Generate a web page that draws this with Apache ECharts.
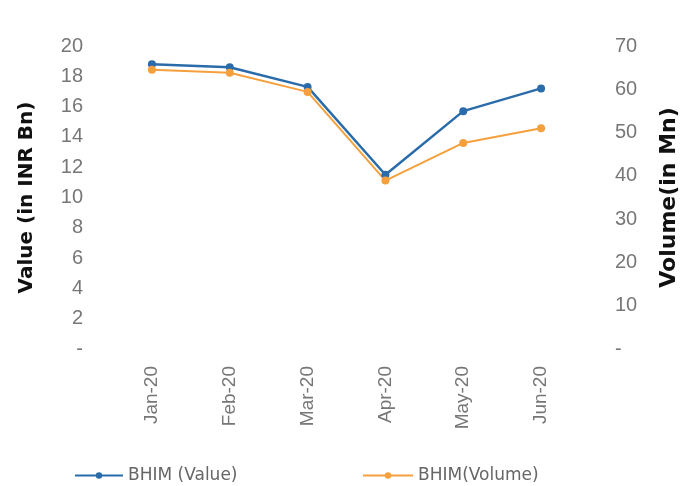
<!DOCTYPE html>
<html>
<head>
<meta charset="utf-8">
<script src="https://cdn.jsdelivr.net/npm/echarts@6/dist/echarts.min.js"></script>
<style>html,body{margin:0;padding:0;background:#fff}#c{width:694px;height:486px}</style>
</head>
<body>
<div id="c"></div>
<script>
var categories = ['Jan-20', 'Feb-20', 'Mar-20', 'Apr-20', 'May-20', 'Jun-20'];
var valueSeries = [18.8, 18.6, 17.3, 11.5, 15.7, 17.2];
var volumeSeries = [64.5, 63.8, 59.4, 38.9, 47.6, 51.0];
var leftTicks = [0, 2, 4, 6, 8, 10, 12, 14, 16, 18, 20];
var rightTicks = [0, 10, 20, 30, 40, 50, 60, 70];

var blue = '#2A6CAA';
var orange = '#F5A03C';
var chart = echarts.init(document.getElementById('c'));
function zeroDash(v){ return v === 0 ? '-' : String(v); }
var legendText = { color: '#666', fontSize: 17, fontFamily: 'DejaVu Sans' };
chart.setOption({
  animation: false,
  backgroundColor: '#fff',
  grid: { left: 113, right: 114, top: 46, bottom: 137 },
  legend: [
    { data: ['BHIM (Value)'], left: 69, top: 462, itemWidth: 48, itemHeight: 8, textStyle: legendText },
    { data: ['BHIM(Volume)'], left: 357, top: 462, itemWidth: 50, itemHeight: 8, textStyle: legendText }
  ],
  xAxis: {
    type: 'category', data: categories, boundaryGap: true,
    axisLine: { show: false }, axisTick: { show: false },
    axisLabel: { rotate: 90, color: '#777', fontSize: 19, margin: 17,
      fontFamily: "'Liberation Sans Narrow', 'Liberation Sans'" }
  },
  yAxis: [
    { type: 'value', min: leftTicks[0], max: leftTicks[leftTicks.length-1], interval: 2,
      name: 'Value (in INR Bn)', nameLocation: 'middle', nameGap: 76, nameRotate: 90,
      nameTextStyle: { color: '#111', fontSize: 20, fontWeight: 'bold', fontFamily: 'DejaVu Sans' },
      axisLine: { show: false }, axisTick: { show: false }, splitLine: { show: false },
      axisLabel: { color: '#777', fontSize: 20, margin: 30, formatter: zeroDash, fontFamily: 'Liberation Sans' } },
    { type: 'value', min: rightTicks[0], max: rightTicks[rightTicks.length-1], interval: 10,
      name: 'Volume(in Mn)', nameLocation: 'middle', nameGap: 78, nameRotate: 90,
      nameTextStyle: { color: '#111', fontSize: 22, fontWeight: 'bold', fontFamily: 'DejaVu Sans' },
      axisLine: { show: false }, axisTick: { show: false }, splitLine: { show: false },
      axisLabel: { color: '#777', fontSize: 20, margin: 35, formatter: zeroDash, fontFamily: 'Liberation Sans' } }
  ],
  series: [
    { name: 'BHIM (Value)', type: 'line', data: valueSeries, yAxisIndex: 0,
      symbol: 'circle', symbolSize: 8, lineStyle: { color: blue, width: 2.5 }, itemStyle: { color: blue } },
    { name: 'BHIM(Volume)', type: 'line', data: volumeSeries, yAxisIndex: 1,
      symbol: 'circle', symbolSize: 8, lineStyle: { color: orange, width: 2 }, itemStyle: { color: orange } }
  ]
});
</script>
</body>
</html>
